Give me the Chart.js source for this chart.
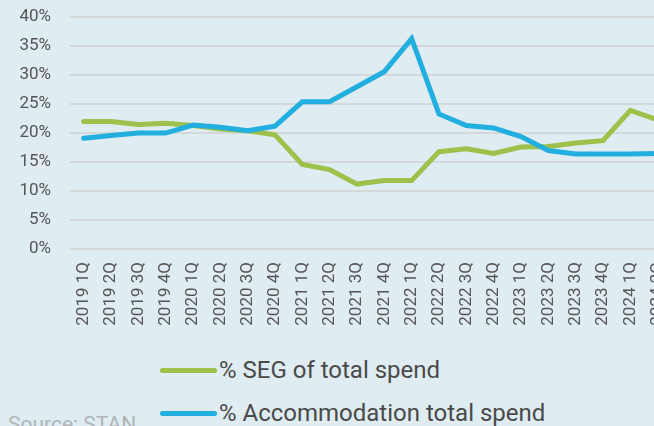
<!DOCTYPE html>
<html>
<head>
<meta charset="utf-8">
<script src="https://cdn.jsdelivr.net/npm/chart.js@4/dist/chart.umd.min.js"></script>
<style>
  html, body { margin: 0; padding: 0; background: #dfecf2; overflow: hidden; }
  body { width: 654px; height: 426px; position: relative; font-family: Roboto, sans-serif; }
  #wrap { position: absolute; left: 0; top: -12px; width: 691px; height: 357px; }
  .legend-row { position: absolute; left: 160px; height: 30px; display: flex; align-items: center;
    font-size: 24px; line-height: 30px; color: #4a4a4a; white-space: nowrap; }
  .legend-swatch { width: 57px; height: 5px; border-radius: 3px; margin-right: 2px; }
  #source { position: absolute; left: 8px; top: 414px; font-size: 21px; line-height: 21px; color: #b0b5b8; white-space: nowrap; }
</style>
</head>
<body>
<div id="wrap"><canvas id="chart"></canvas></div>
<div id="legend"></div>
<div id="source">Source: STAN</div>
<script>
const quarters = [
  '2019 1Q', '2019 2Q', '2019 3Q', '2019 4Q',
  '2020 1Q', '2020 2Q', '2020 3Q', '2020 4Q',
  '2021 1Q', '2021 2Q', '2021 3Q', '2021 4Q',
  '2022 1Q', '2022 2Q', '2022 3Q', '2022 4Q',
  '2023 1Q', '2023 2Q', '2023 3Q', '2023 4Q',
  '2024 1Q', '2024 2Q'
];

const segShare = [
  22.0, 22.0, 21.5, 21.7,
  21.3, 20.7, 20.4, 19.7,
  14.6, 13.7, 11.2, 11.8,
  11.8, 16.8, 17.3, 16.5,
  17.6, 17.7, 18.3, 18.7,
  23.9, 22.3
];

const accomShare = [
  19.1, 19.6, 20.0, 20.0,
  21.4, 21.0, 20.4, 21.2,
  25.4, 25.4, 28.0, 30.6,
  36.3, 23.3, 21.3, 20.9,
  19.4, 17.0, 16.4, 16.4,
  16.4, 16.5
];

const yTicks = [0, 5, 10, 15, 20, 25, 30, 35, 40];

const GREEN = '#9dc14a';
const BLUE = '#22afe0';

const datasets = [
  { label: '% SEG of total spend', data: segShare, borderColor: GREEN, order: 1 },
  { label: '% Accommodation total spend', data: accomShare, borderColor: BLUE, order: 0 }
].map(d => ({
  ...d,
  backgroundColor: d.borderColor,
  borderWidth: 5,
  borderCapStyle: 'round',
  pointRadius: 0,
  pointHoverRadius: 0,
  tension: 0,
  fill: false
}));

new Chart(document.getElementById('chart'), {
  type: 'line',
  data: { labels: quarters, datasets: datasets },
  options: {
    responsive: true,
    maintainAspectRatio: false,
    animation: false,
    layout: { padding: { top: 4, left: 0, right: 0, bottom: 0 } },
    plugins: {
      legend: { display: false },
      tooltip: { enabled: false }
    },
    scales: {
      x: {
        offset: true,
        grid: { display: false, drawTicks: false },
        border: { display: false },
        ticks: {
          autoSkip: false,
          minRotation: 90,
          maxRotation: 90,
          padding: 13,
          color: '#555',
          font: { family: 'Roboto', size: 17 }
        },
        afterFit: (scale) => { scale.height = 96; }
      },
      y: {
        min: 0,
        max: 40,
        afterBuildTicks: (scale) => { scale.ticks = yTicks.map(v => ({ value: v })); },
        grid: { color: '#d5d8d9', lineWidth: 2, drawTicks: false },
        border: { display: false },
        ticks: {
          padding: 19,
          color: '#555',
          font: { family: 'Roboto', size: 17 },
          callback: (v) => v + '%'
        },
        afterFit: (scale) => { scale.width = 70; }
      }
    }
  }
});

// stacked legend under the chart
const legendEl = document.getElementById('legend');
datasets.forEach((d, i) => {
  const row = document.createElement('div');
  row.className = 'legend-row';
  row.style.top = (355 + i * 43) + 'px';
  row.innerHTML = `<span class="legend-swatch" style="background:${d.borderColor}"></span><span>${d.label}</span>`;
  legendEl.appendChild(row);
});
</script>
</body>
</html>
